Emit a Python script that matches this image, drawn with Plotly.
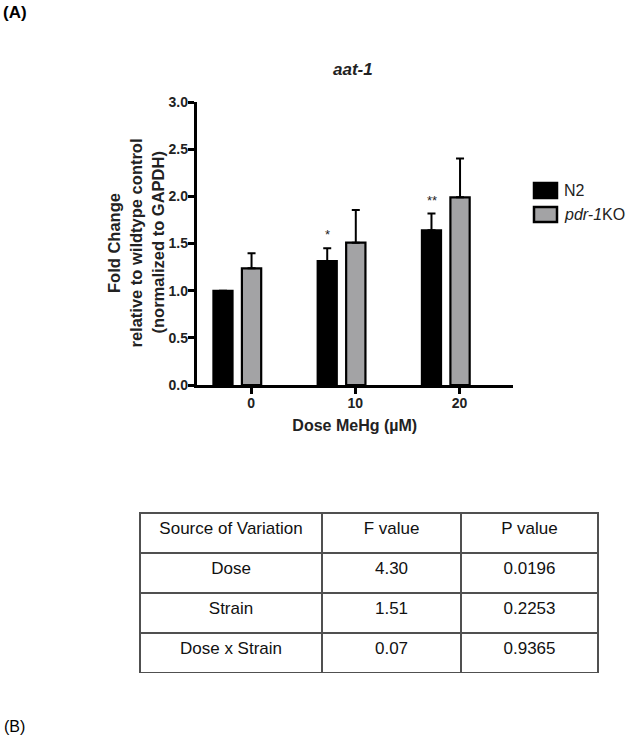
import plotly.graph_objects as go

W, H = 639, 738

# ---- data ----
doses = ["0", "10", "20"]
n2_mean = [1.00, 1.315, 1.64]
n2_err = [0.0, 0.135, 0.177]
pdr_mean = [1.237, 1.509, 1.99]
pdr_err = [0.16, 0.346, 0.41]
n2_sig = ["", "*", "**"]

table_header = ["Source of Variation", "F value", "P value"]
table_source = ["Dose", "Strain", "Dose x Strain"]
table_f = ["4.30", "1.51", "0.07"]
table_p = ["0.0196", "0.2253", "0.9365"]

FONT = "Arial, Liberation Sans, sans-serif"


def px(x):
    return x / W


def py(y):
    return 1 - y / H


fig = go.Figure()

bar_w = 0.185
fig.add_trace(go.Bar(
    x=doses, y=n2_mean, name="N2",
    width=bar_w, offset=-0.269 - bar_w / 2,
    marker=dict(color="#000000", line=dict(color="#000000", width=2)),
    error_y=dict(type="data", array=n2_err, arrayminus=[0] * 3, symmetric=False,
                 color="#000000", thickness=2, width=4),
    showlegend=False,
))
fig.add_trace(go.Bar(
    x=doses, y=pdr_mean, name="pdr-1KO",
    width=bar_w, offset=-bar_w / 2 + 0.005,
    marker=dict(color="#a3a3a5", line=dict(color="#000000", width=2.2)),
    error_y=dict(type="data", array=pdr_err, arrayminus=[0] * 3, symmetric=False,
                 color="#000000", thickness=2, width=4),
    showlegend=False,
))

# significance stars above N2 bars (category axis -> annotation x is category index)
for i, (m, e, s) in enumerate(zip(n2_mean, n2_err, n2_sig)):
    if s:
        fig.add_annotation(x=i, y=m + e, xref="x", yref="y", text=s, showarrow=False,
                           xshift=-28, yshift=4, yanchor="bottom", xanchor="center",
                           font=dict(family=FONT, size=13, color="#222"))

# table
fig.add_trace(go.Table(
    domain=dict(x=[px(140), px(598.5)], y=[py(673.5), py(513)]),
    columnwidth=[182, 139, 137],
    header=dict(values=table_header, height=40, align="center",
                line=dict(color="#505050", width=1.5), fill=dict(color="white"),
                font=dict(family=FONT, size=17, color="#111")),
    cells=dict(values=[table_source, table_f, table_p], height=40, align="center",
               line=dict(color="#505050", width=1.5), fill=dict(color="white"),
               font=dict(family=FONT, size=17, color="#111")),
))

# legend (drawn)
for (y0, y1), col, label in [((183, 198), "#000000", "N2"),
                             ((207, 222), "#a3a3a5", "<i>pdr-1</i>KO")]:
    fig.add_shape(type="rect", xref="paper", yref="paper",
                  x0=px(534), x1=px(557), y0=py(y1), y1=py(y0),
                  fillcolor=col, line=dict(color="#000", width=2.5))
    fig.add_annotation(x=px(562), y=py((y0 + y1) / 2), xref="paper", yref="paper",
                       text=label, showarrow=False, xanchor="left", yanchor="middle",
                       font=dict(family=FONT, size=16, color="#222"))

# y-axis title lines
for xc, txt in [(114, "Fold Change"), (135.5, "relative to wildtype control"),
                (157.5, "(normalized to GAPDH)")]:
    fig.add_annotation(x=px(xc), y=py(243), xref="paper", yref="paper", text=txt,
                       textangle=-90, showarrow=False, xanchor="center", yanchor="middle",
                       font=dict(family=FONT, size=16.5, color="#222", weight="bold"))

# chart title & panel labels
fig.add_annotation(x=px(353), y=py(70), xref="paper", yref="paper",
                   text="<b><i>aat-1</i></b>", showarrow=False,
                   xanchor="center", yanchor="middle",
                   font=dict(family=FONT, size=17, color="#222"))
fig.add_annotation(x=px(15), y=py(12.5), xref="paper", yref="paper", text="<b>(A)</b>",
                   showarrow=False, xanchor="center", yanchor="middle",
                   font=dict(family=FONT, size=17, color="#000"))
fig.add_annotation(x=px(14.5), y=py(726), xref="paper", yref="paper", text="(B)",
                   showarrow=False, xanchor="center", yanchor="middle",
                   font=dict(family=FONT, size=16, color="#000"))

fig.update_layout(
    width=W, height=H,
    margin=dict(l=0, r=0, t=0, b=0, pad=0, autoexpand=False),
    paper_bgcolor="white", plot_bgcolor="white",
    barmode="overlay",
    showlegend=False,
    font=dict(family=FONT, color="#222"),
    xaxis=dict(domain=[px(196.5), px(513)], type="category",
               categoryorder="array", categoryarray=doses,
               range=[-0.523, 2.513], automargin=False,
               showline=True, linecolor="#000", linewidth=2.5,
               ticks="outside", ticklen=6, tickwidth=2.5, tickcolor="#000",
               showgrid=False, zeroline=False, ticklabelstandoff=-3,
               tickfont=dict(family=FONT, size=14, color="#222", weight="bold"),
               title=dict(text="Dose MeHg (µM)", standoff=11,
                          font=dict(family=FONT, size=16, color="#222", weight="bold"))),
    yaxis=dict(domain=[py(385), py(102)], range=[0, 3], automargin=False,
               tickvals=[0, 0.5, 1.0, 1.5, 2.0, 2.5, 3.0],
               ticktext=["0.0", "0.5", "1.0", "1.5", "2.0", "2.5", "3.0"],
               showline=True, linecolor="#000", linewidth=2.5,
               ticks="outside", ticklen=6, tickwidth=2.5, tickcolor="#000",
               showgrid=False, zeroline=False, ticklabelstandoff=-3,
               tickfont=dict(family=FONT, size=14, color="#222", weight="bold")),
)

fig.write_html("out.html", config={"displayModeBar": False},
               post_script="document.body.style.margin='0';document.body.style.overflow='hidden';")
